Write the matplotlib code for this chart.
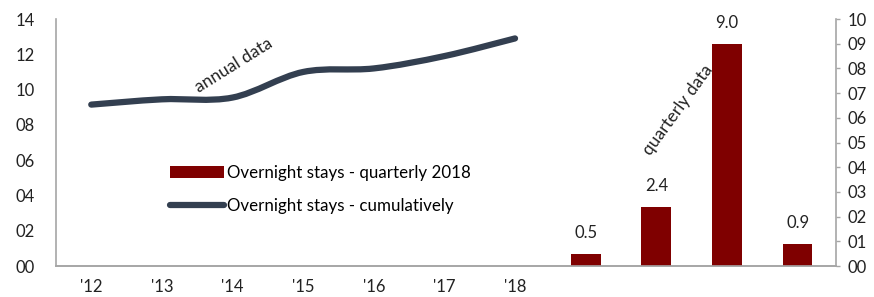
import matplotlib.pyplot as plt
from matplotlib.path import Path
from matplotlib.patches import PathPatch
from matplotlib.lines import Line2D
from matplotlib.patches import Patch

plt.rcParams['font.family'] = ['Lato', 'DejaVu Sans']

# data
years = ["'12", "'13", "'14", "'15", "'16", "'17", "'18"]
cumulative = [9.15, 9.45, 9.55, 11.0, 11.2, 11.9, 12.9]
quarterly = [0.5, 2.4, 9.0, 0.9]
quarter_pos = [7, 8, 9, 10]

left_ticks = [0, 2, 4, 6, 8, 10, 12, 14]
right_ticks = list(range(0, 11))

line_color = "#333f50"
bar_color = "#7f0000"
spine_color = "#a6a6a6"
txt = "#222222"

fig = plt.figure(figsize=(8.74, 2.97), dpi=100)
ax = fig.add_axes([0.064, 0.104, 0.893, 0.832])
ax2 = ax.twinx()

# smooth line through the yearly points (Catmull-Rom as cubic bezier)
xs = list(range(len(cumulative)))
pts = list(zip(xs, cumulative))
verts = [pts[0]]
codes = [Path.MOVETO]
for i in range(len(pts) - 1):
    p0 = pts[i - 1] if i > 0 else pts[i]
    p1 = pts[i]
    p2 = pts[i + 1]
    p3 = pts[i + 2] if i + 2 < len(pts) else pts[i + 1]
    c1 = (p1[0] + (p2[0] - p0[0]) / 6, p1[1] + (p2[1] - p0[1]) / 6)
    c2 = (p2[0] - (p3[0] - p1[0]) / 6, p2[1] - (p3[1] - p1[1]) / 6)
    verts += [c1, c2, p2]
    codes += [Path.CURVE4] * 3
ax.add_patch(PathPatch(Path(verts, codes), facecolor="none", edgecolor=line_color,
                       lw=4.5, capstyle="round", zorder=3))

# quarterly bars on the right axis
bars = ax2.bar(quarter_pos, quarterly, width=0.42, color=bar_color, zorder=2)
for b, v in zip(bars, quarterly):
    ax2.annotate(f"{v:.1f}", (b.get_x() + b.get_width() / 2, v), xytext=(0, 9),
                 textcoords="offset points", ha="center", va="bottom", fontsize=12,
                 color=txt)

ax.set_xlim(-0.5, 10.55)
ax.set_ylim(0, 14)
ax2.set_ylim(0, 10)
ax.set_xticks(xs)
ax.set_xticklabels(years)
ax.set_yticks(left_ticks)
ax.set_yticklabels([f"{v:02d}" for v in left_ticks])
ax2.set_yticks(right_ticks)
ax2.set_yticklabels([f"{v:02d}" for v in right_ticks])

ax.tick_params(axis="x", length=0, pad=9, labelsize=12, colors=txt)
ax.tick_params(axis="y", length=0, pad=15, labelsize=12, colors=txt)
ax2.tick_params(axis="y", length=3, width=1, color=spine_color, pad=5,
                labelsize=12, labelcolor=txt)

for a in (ax, ax2):
    a.spines["top"].set_visible(False)
    for s in ("left", "right", "bottom"):
        a.spines[s].set_color(spine_color)
        a.spines[s].set_linewidth(1.2)
ax.spines["right"].set_visible(False)
ax2.spines["left"].set_visible(False)

# text annotations
ax.text(2.02, 11.4, "annual data", rotation=32, ha="center", va="center",
        fontsize=12.5, color=txt)
ax2.text(8.3, 6.3, "quarterly data", rotation=54, ha="center", va="center",
         fontsize=12.5, color=txt)

handles = [Patch(facecolor=bar_color, edgecolor="none"),
           Line2D([0], [0], color=line_color, lw=4.5, solid_capstyle="round")]
labels = ["Overnight stays - quarterly 2018", "Overnight stays - cumulatively"]
ax.legend(handles, labels, loc="upper left", bbox_to_anchor=(0.135, 0.445), frameon=False,
          fontsize=12.2, handlelength=3.2, handleheight=0.75, handletextpad=0.2,
          labelspacing=1.05, borderpad=0)

fig.savefig("out.png", dpi=100)
